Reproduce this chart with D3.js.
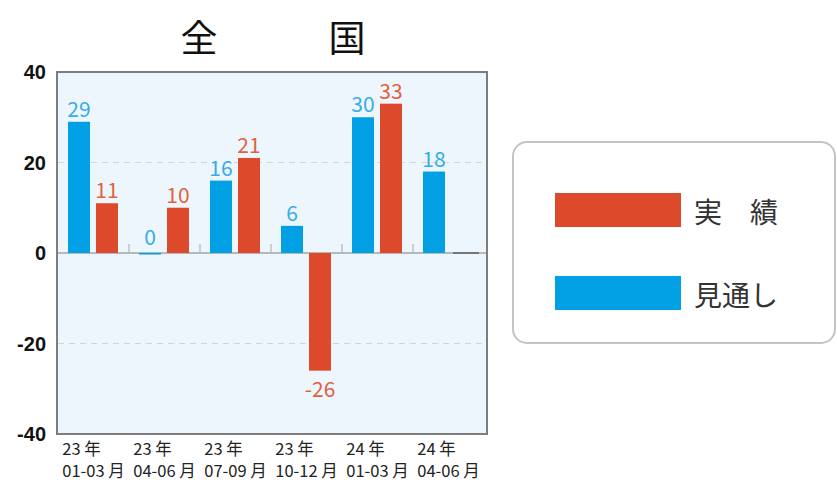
<!DOCTYPE html>
<html><head><meta charset="utf-8">
<script src="https://cdn.jsdelivr.net/npm/d3@7/dist/d3.min.js"></script>
<style>body{margin:0;background:#fff}svg{display:block}</style>
</head><body>
<svg id="c" width="837" height="482"></svg>
<script>
const years = ["23 年","23 年","23 年","23 年","24 年","24 年"];
const months = ["01-03 月","04-06 月","07-09 月","10-12 月","01-03 月","04-06 月"];
const categories = ["23-1","23-2","23-3","23-4","24-1","24-2"];
const forecast = [29, 0, 16, 6, 30, 18];      // 見通し
const actual = [11, 10, 21, -26, 33, null];   // 実績
const yTicks = [-40, -20, 0, 20, 40];
const seriesNames = ["見通し", "実　績"];
const title = "全　　　国";

const blue = "#019fe4", red = "#dc4a2b";
const blueLbl = "#35aceb", redLbl = "#e2613f";
const cjk = "'Noto Sans CJK JP','Noto Sans',sans-serif";

const svg = d3.select("#c");
const L = 57, R = 487, T = 72, B = 434;
const y = d3.scaleLinear().domain([-40, 40]).range([B, T]);
const x = d3.scaleBand().domain(categories).range([58, 484]);
const xs = d3.scaleBand().domain(["f","a"]).range([10, 60]).paddingInner(0.214).paddingOuter(0);

// title
svg.append("text").attr("x", (L + R) / 2 + 1).attr("y", 52).attr("text-anchor", "middle")
  .style("font-family", cjk).style("font-size", "37px").attr("fill", "#111").text(title);

// plot bg
svg.append("rect").attr("x", L).attr("y", T).attr("width", R - L).attr("height", B - T)
  .attr("fill", "#eef6fd");

// grid
svg.append("g").selectAll("line").data(yTicks.filter(t => t === 20 || t === -20)).join("line")
  .attr("x1", L + 1).attr("x2", R - 1).attr("y1", d => y(d)).attr("y2", d => y(d))
  .attr("stroke", "#cfd6da").attr("stroke-width", 1).attr("stroke-dasharray", "6,5");

// zero line
svg.append("line").attr("x1", L).attr("x2", R).attr("y1", y(0)).attr("y2", y(0))
  .attr("stroke", "#a0a4a8").attr("stroke-width", 1.5);
// group ticks
svg.append("g").selectAll("line").data(categories.slice(1)).join("line")
  .attr("x1", d => x(d)).attr("x2", d => x(d)).attr("y1", y(0)).attr("y2", y(0) - 9)
  .attr("stroke", "#b0b4b8").attr("stroke-width", 1.2);

// bars
const g = svg.append("g");
g.selectAll("rect.f").data(forecast).join("rect").attr("class", "f")
  .attr("x", (d, i) => x(categories[i]) + xs("f")).attr("width", xs.bandwidth())
  .attr("y", d => y(Math.max(0, d))).attr("height", d => Math.max(Math.abs(y(d) - y(0)), d === 0 ? 1.5 : 0))
  .attr("fill", blue);
g.selectAll("rect.a").data(actual).join("rect").attr("class", "a")
  .attr("x", (d, i) => x(categories[i]) + xs("a") + (d === null ? 2 : 0)).attr("width", d => xs.bandwidth() + (d === null ? 4 : 0))
  .attr("y", d => d === null ? y(0) - 1 : y(Math.max(0, d)))
  .attr("height", d => d === null ? 2 : Math.abs(y(d) - y(0)))
  .attr("fill", d => d === null ? "#777" : red);

// value labels
const lbl = (d) => d > 0 ? y(d) - 5 : d === 0 ? y(d) - 8 : y(d) + 26;
g.selectAll("text.f").data(forecast).join("text").attr("class", "f")
  .attr("x", (d, i) => x(categories[i]) + xs("f") + xs.bandwidth() / 2).attr("y", d => lbl(d))
  .attr("text-anchor", "middle").style("font-family", cjk).style("font-size", "21px")
  .attr("fill", blueLbl).text(d => d);
g.selectAll("text.a").data(actual.map((v, i) => ({v, i})).filter(o => o.v !== null)).join("text").attr("class", "a")
  .attr("x", o => x(categories[o.i]) + xs("a") + xs.bandwidth() / 2).attr("y", o => lbl(o.v))
  .attr("text-anchor", "middle").style("font-family", cjk).style("font-size", "21px")
  .attr("fill", redLbl).text(o => o.v);

// frame
svg.append("rect").attr("x", L).attr("y", T).attr("width", R - L).attr("height", B - T)
  .attr("fill", "none").attr("stroke", "#7d7d7d").attr("stroke-width", 2);

// y axis labels
svg.append("g").selectAll("text").data(yTicks).join("text")
  .attr("x", 46).attr("y", d => y(d) + 7).attr("text-anchor", "end")
  .style("font-family", "'Liberation Sans',Arial,sans-serif").style("font-weight", "bold")
  .style("font-size", "20px").attr("fill", "#111").text(d => d);

// x labels (two lines in one text element)
const xl = svg.append("g");
categories.forEach((c, i) => {
  const t = xl.append("text").style("font-family", cjk).style("font-size", "16.5px").attr("fill", "#222");
  const s1 = t.append("tspan").attr("y", 455).text(years[i]);
  const s2 = t.append("tspan").attr("y", 477).text(months[i]);
  const w = s2.node().getComputedTextLength();
  const x0 = x(c) + x.bandwidth() / 2 - w / 2;
  s1.attr("x", x0); s2.attr("x", x0);
});

// legend
const lg = svg.append("g");
lg.append("rect").attr("x", 513).attr("y", 142).attr("width", 322).attr("height", 201)
  .attr("rx", 14).attr("fill", "#fff").attr("stroke", "#c4c4c4").attr("stroke-width", 2);
const legItems = [{name: seriesNames[1], color: red}, {name: seriesNames[0], color: blue}];
legItems.forEach((it, i) => {
  const yy = 193 + i * 83;
  lg.append("rect").attr("x", 555).attr("y", yy).attr("width", 126).attr("height", 34).attr("fill", it.color);
  lg.append("text").attr("x", 694).attr("y", yy + 30).style("font-family", cjk).style("font-size", "28px")
    .attr("fill", "#333").text(it.name);
});
</script>
</body></html>
